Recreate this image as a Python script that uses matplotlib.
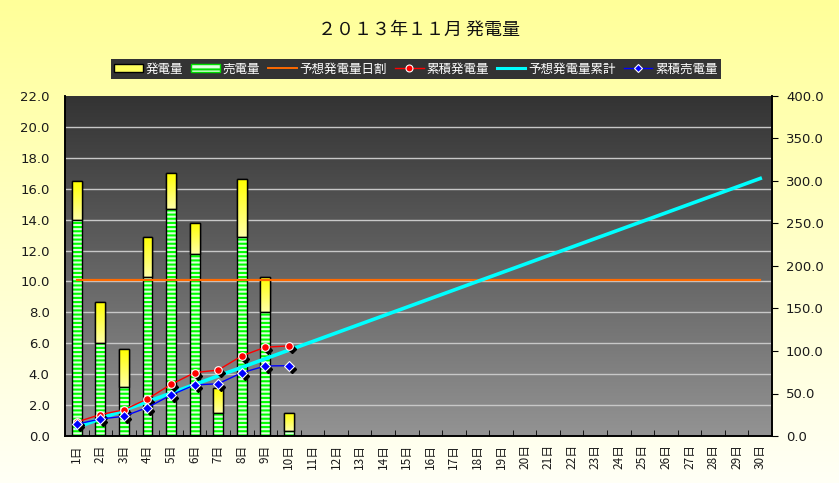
import numpy as np
import matplotlib
matplotlib.use("Agg")
import matplotlib.pyplot as plt
from matplotlib.patches import Patch
from matplotlib.lines import Line2D
from matplotlib.transforms import offset_copy
from matplotlib.colors import LinearSegmentedColormap

plt.rcParams['font.family'] = ['Noto Sans CJK JP', 'DejaVu Sans']
plt.rcParams['hatch.linewidth'] = 1.5

# ---------------- data ----------------
day_labels = ["1日", "2日", "3日", "4日", "5日", "6日", "7日", "8日", "9日", "10日",
              "11日", "12日", "13日", "14日", "15日", "16日", "17日", "18日", "19日", "20日",
              "21日", "22日", "23日", "24日", "25日", "26日", "27日", "28日", "29日", "30日"]
generation = [16.5, 8.7, 5.6, 12.9, 17.0, 13.8, 3.1, 16.6, 10.3, 1.5]
sold = [14.0, 6.0, 3.2, 10.3, 14.7, 11.8, 1.5, 12.9, 8.0, 0.3]
forecast_daily = [10.1] * 30
cum_generation = [16.5, 25.2, 30.8, 43.7, 60.7, 74.5, 77.6, 94.2, 104.5, 106.0]
forecast_cum = [10.1, 20.2, 30.3, 40.4, 50.5, 60.6, 70.7, 80.8, 90.9, 101.0,
                111.1, 121.2, 131.3, 141.4, 151.5, 161.6, 171.7, 181.8, 191.9, 202.0,
                212.1, 222.2, 232.3, 242.4, 252.5, 262.6, 272.7, 282.8, 292.9, 303.0]
cum_sold = [14.0, 20.0, 23.2, 33.5, 48.2, 60.0, 61.5, 74.4, 82.4, 82.7]
left_ticks = [0, 2, 4, 6, 8, 10, 12, 14, 16, 18, 20, 22]
right_ticks = [0, 50, 100, 150, 200, 250, 300, 350, 400]
title = "２０１３年１１月 発電量"

# ---------------- figure ----------------
W, H = 839, 483
fig = plt.figure(figsize=(W / 100, H / 100), dpi=100)

# figure background gradient (pale yellow -> near white)
bg = fig.add_axes([0, 0, 1, 1], zorder=-10)
bg.set_axis_off()
cmap_bg = LinearSegmentedColormap.from_list("bg", ["#FFFFF6", "#FFFF99"])
bg.imshow(np.linspace(0, 1, 256).reshape(-1, 1)[::-1], aspect="auto", cmap=cmap_bg,
          extent=[0, 1, 0, 1], origin="upper")
bg.set_xlim(0, 1)
bg.set_ylim(0, 1)

left, right, top, bottom = 65, 772, 96, 436
ax = fig.add_axes([left / W, (H - bottom) / H, (right - left) / W, (bottom - top) / H])
n = len(day_labels)
x_all = np.arange(1, n + 1)

ax.set_xlim(0.5, n + 0.5)
ax.set_ylim(0, 22)

# plot area gradient
cmap_pa = LinearSegmentedColormap.from_list("pa", ["#939393", "#333333"])
ax.imshow(np.linspace(0, 1, 256).reshape(-1, 1)[::-1], aspect="auto", cmap=cmap_pa,
          extent=[0.5, n + 0.5, 0, 22], origin="upper", zorder=0)

# grid
for t in left_ticks[1:-1]:
    ax.axhline(t, color="#C8C8C8", lw=1.0, zorder=1)

# bars
bw = 0.42
x_d = np.arange(1, len(generation) + 1)
cmap_y = LinearSegmentedColormap.from_list("yl", ["#FFFFA8", "#FFFF00"])
for xi, g, s in zip(x_d, generation, sold):
    # yellow part (total generation shown above sold)
    r = ax.bar(xi, g - s, bottom=s, width=bw, color="#FFFF40", edgecolor="black",
               linewidth=1.0, zorder=2)[0]
    im = ax.imshow(np.linspace(0, 1, 64).reshape(-1, 1)[::-1], aspect="auto", cmap=cmap_y,
                   extent=[xi - bw / 2, xi + bw / 2, s, g], origin="upper", zorder=2.1)
    im.set_clip_path(r)
    ax.bar(xi, g - s, bottom=s, width=bw, fill=False, edgecolor="black",
           linewidth=1.0, zorder=2.2)
    # green striped part
    ax.bar(xi, s, width=bw, color="#E0FFE0", edgecolor="#00FF00", hatch="----",
           linewidth=0, zorder=2.3)
    ax.bar(xi, s, width=bw, fill=False, edgecolor="black", linewidth=1.0, zorder=2.4)

ax.set_xlim(0.5, n + 0.5)
ax.set_ylim(0, 22)

# daily forecast line
ax.plot(x_all, forecast_daily, color="#FF6A00", lw=1.6, zorder=3)

# right axis
ax2 = ax.twinx()
ax2.set_ylim(0, 400)
ax2.set_xlim(0.5, n + 0.5)

ax2.plot(x_all, forecast_cum, color="#00FFFF", lw=2.6, zorder=3)

shadow = offset_copy(ax2.transData, fig=fig, x=3, y=-3, units="dots")
ax2.plot(x_d, cum_generation, ls="none", marker="D", ms=4.0, color="black",
         transform=shadow, zorder=3.5)
ax2.plot(x_d, cum_sold, ls="none", marker="D", ms=4.0, color="black",
         transform=shadow, zorder=3.5)
ax2.plot(x_d, cum_generation, color="#FF0000", lw=1.0, marker="o", ms=5.5,
         markerfacecolor="#FF0000", markeredgecolor="white", markeredgewidth=0.8, zorder=4)
ax2.plot(x_d, cum_sold, color="#0000FF", lw=1.0, marker="D", ms=5,
         markerfacecolor="#0000FF", markeredgecolor="white", markeredgewidth=0.8, zorder=4)

# ticks / spines
ax.set_yticks(left_ticks)
ax.set_yticklabels([f"{t:.1f}" for t in left_ticks], fontsize=9.5, color="#1A1A1A",
                   family=["DejaVu Sans"])
ax.tick_params(axis="y", length=0, pad=11)
ax.set_xticks(x_all)
ax.set_xticklabels(day_labels, rotation=90, fontsize=8.5, color="#1A1A1A")
ax.tick_params(axis="x", length=0, pad=6)
ax.set_xticks(np.arange(0.5, n + 1.0, 1.0), minor=True)
ax.tick_params(axis="x", which="minor", direction="in", length=4, color="black")

ax2.set_yticks(right_ticks)
ax2.set_yticklabels([f"{t:.1f}" for t in right_ticks], fontsize=9.5, color="#1A1A1A",
                    family=["DejaVu Sans"])
ax2.tick_params(axis="y", direction="out", length=4, pad=6, color="black")

for a in (ax, ax2):
    for side in ("left", "right", "bottom"):
        a.spines[side].set_color("black")
        a.spines[side].set_linewidth(1.2)
    a.spines["top"].set_visible(False)

# title
fig.text(419 / W, 1 - 30 / H, title, ha="center", va="center", fontsize=13, color="#111111")

# legend
handles = [
    Patch(facecolor="#FFFF60", edgecolor="black", linewidth=1.0),
    Patch(facecolor="#E0FFE0", edgecolor="#00DD00", hatch="---", linewidth=1.0),
    Line2D([], [], color="#FF6A00", lw=1.4),
    Line2D([], [], color="#FF0000", lw=1.0, marker="o", ms=5, markerfacecolor="#FF0000",
           markeredgecolor="white", markeredgewidth=0.8),
    Line2D([], [], color="#00FFFF", lw=2.2),
    Line2D([], [], color="#0000FF", lw=1.0, marker="D", ms=4.5, markerfacecolor="#0000FF",
           markeredgecolor="white", markeredgewidth=0.8),
]
labels = ["発電量", "売電量", "予想発電量日割", "累積発電量", "予想発電量累計", "累積売電量"]
leg = fig.legend(handles, labels, loc="center", bbox_to_anchor=(416 / W, 1 - 69 / H),
                 ncol=6, frameon=True, facecolor="#333333", edgecolor="#333333",
                 framealpha=1, fancybox=False, fontsize=9, labelcolor="white",
                 handlelength=2.3, handleheight=0.6, handletextpad=0.25,
                 columnspacing=0.6, borderpad=0.25, borderaxespad=0)
leg.get_frame().set_linewidth(0)

fig.savefig("out.png", dpi=100)
